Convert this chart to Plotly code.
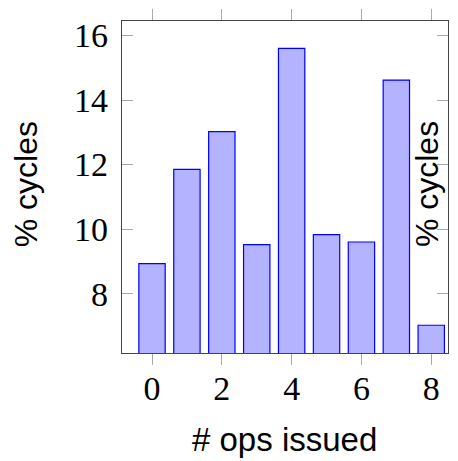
import plotly.graph_objects as go

ops = [0, 1, 2, 3, 4, 5, 6, 7, 8]
pct_cycles = [8.93, 11.85, 13.02, 9.52, 15.6, 9.83, 9.6, 14.62, 7.02]
x_ticks = [0, 2, 4, 6, 8]
y_ticks = [8, 10, 12, 14, 16]

# page body has an 8px margin and the visible area ends at the body's right edge
OFF = 8
W, H = 458 - 2 * OFF, 461 - OFF
PL, PR, PT, PB = 122, 449, 19, 353          # plot box in page pixels
L, R, T = PL - OFF, W - (PR - OFF), PT - OFF
B = H - (PB - OFF)

fig = go.Figure()
fig.add_trace(go.Bar(
    x=ops, y=pct_cycles, width=0.755,
    marker=dict(color="rgb(179,179,255)", line=dict(color="rgb(0,0,255)", width=1.2)),
))

tickfont = dict(family="Liberation Serif, DejaVu Serif, serif", size=34, color="black")
labelfont = dict(family="Liberation Sans, Arial, sans-serif", size=32, color="black")
titlefont = dict(family="Liberation Sans, Arial, sans-serif", size=33, color="black")

pw, ph = W - L - R, H - T - B

def px(x):
    return (x - OFF - L) / pw

def py(y):
    return (H - B - (y - OFF)) / ph

fig.update_layout(
    width=W, height=H,
    margin=dict(l=L, r=R, t=T, b=B, pad=0),
    plot_bgcolor="white", paper_bgcolor="white",
    showlegend=False,
    xaxis=dict(
        range=[-0.86, 8.48], tickvals=x_ticks, ticktext=[str(v) for v in x_ticks],
        ticks="outside", ticklen=11, tickcolor="#aaaaaa", tickwidth=1,
        showline=True, linecolor="#444444", linewidth=1.2, mirror="ticks",
        showgrid=False, zeroline=False, tickfont=tickfont, ticklabelstandoff=-6,
    ),
    yaxis=dict(
        range=[6.16, 16.45], tickvals=y_ticks, ticktext=[str(v) for v in y_ticks],
        ticks="inside", ticklen=11, tickcolor="#aaaaaa", tickwidth=1,
        showline=True, linecolor="#444444", linewidth=1.2, mirror="ticks",
        showgrid=False, zeroline=False, tickfont=tickfont, ticklabelstandoff=6,
    ),
    annotations=[
        dict(text="% cycles", textangle=-90, xref="paper", yref="paper",
             x=px(26), y=py(183),
             xanchor="center", yanchor="middle", showarrow=False, font=labelfont),
        dict(text="% cycles", textangle=-90, xref="paper", yref="paper",
             x=px(428), y=py(183),
             xanchor="center", yanchor="middle", showarrow=False, font=labelfont),
        dict(text="# ops issued", xref="paper", yref="paper",
             x=px(285), y=py(440),
             xanchor="center", yanchor="middle", showarrow=False, font=titlefont),
    ],
)

fig.write_html("out.html")
